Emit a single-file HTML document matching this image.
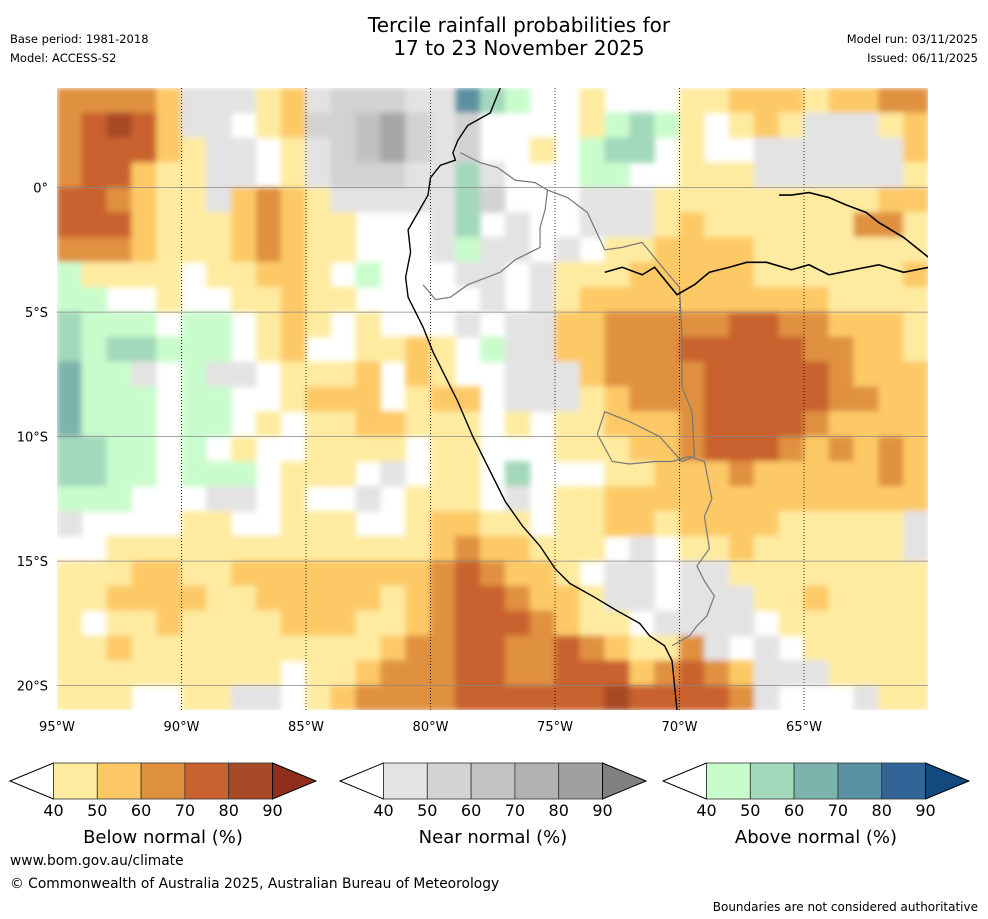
<!DOCTYPE html>
<html><head><meta charset="utf-8">
<style>
body{margin:0;background:#fff;width:988px;height:919px;overflow:hidden;font-family:"DejaVu Sans","Liberation Sans",sans-serif;}
svg{display:block}
</style></head>
<body>
<svg id="chart" width="988" height="919" viewBox="0 0 988 919">
<text x="519" y="32" font-size="20" text-anchor="middle">Tercile rainfall probabilities for</text>
<text x="519" y="55" font-size="20" text-anchor="middle">17 to 23 November 2025</text>
<text x="10" y="43" font-size="11.5">Base period: 1981-2018</text>
<text x="10" y="62" font-size="11.5">Model: ACCESS-S2</text>
<text x="978" y="43" font-size="11.5" text-anchor="end">Model run: 03/11/2025</text>
<text x="978" y="62" font-size="11.5" text-anchor="end">Issued: 06/11/2025</text>
<defs><clipPath id="mapclip"><rect x="57" y="88" width="871" height="622"/></clipPath>
<filter id="soft" x="-2%" y="-2%" width="104%" height="104%"><feGaussianBlur stdDeviation="3"/></filter></defs>
<g clip-path="url(#mapclip)"><g id="cells" filter="url(#soft)"></g></g>
<g id="grid"></g>
<g id="coast" clip-path="url(#mapclip)"></g>
<g id="axes"></g>
<g id="legend"></g>
<text x="10" y="865" font-size="13.8">www.bom.gov.au/climate</text>
<text x="10" y="888" font-size="13.8">© Commonwealth of Australia 2025, Australian Bureau of Meteorology</text>
<text x="978" y="911" font-size="12" text-anchor="end">Boundaries are not considered authoritative</text>
</svg>
<script>
// Grid rows: lat 4N down to 21S in 1° steps; columns lon 95W..61W
const latTop = 4, lonLeft = -95;
const categoryRows = [
"ccccb"+"gggab"+"ghhhg"+"gsqp."+".a..."+"aabbb"+"abbcc",
"cdedb"+"gg.ab"+"hhijh"+"gh..."+".apqp"+"a.aba"+"gggab",
"cdddb"+"agg.a"+"ghijh"+"gh..a"+".pqq."+"a..gg"+"ggggb",
"cddba"+"agg.a"+"ghhhg"+"gqg.."+".pp.."+"aaagg"+"gggga",
"ddcba"+"agbcb"+"agggg"+"gqh.."+".ggga"+"aaaaa"+"aaabb",
"dddba"+"aabcb"+"aa..."+"gq.g."+".ggga"+"baaaa"+"aacca",
"cccba"+"aabcb"+"aa..."+"gpgg."+"g.aab"+"bbbaa"+"aaaaa",
"paaaa"+".aabb"+"a.p.."+".gg.g"+"aaabb"+"bbbaa"+"aaaab",
"pp..a"+"..aab"+"aa..."+"..g.g"+"abbbb"+"bbbbb"+"baaaa",
"qppp."+"pp.ab"+"a.a.."+".g.gg"+"bbccc"+"ccddc"+"cbbba",
"qpqqp"+"pp.ab"+"..aab"+"a.pgg"+"bbccc"+"ddddd"+"ccbba",
"rppg."+"pgg.a"+"aab.b"+"a..gg"+"gbccc"+"cdddd"+"dcbbb",
"rppp."+"pp..a"+"bbb.a"+"bb.gg"+"gabcc"+"cdddd"+"dccbb",
"rppp."+"pp.a."+"aabba"+"aa.a."+"aabbb"+"cdddd"+"cbbbb",
"qqpp."+"p.a.."+"aaaa."+"aa..."+"aaabb"+"cdddc"+"bcbcb",
"qqpp."+"ppp.a"+"aa.g."+"aa.q."+"..aab"+"bbcbb"+"bbbcb",
"ppp.."+".gg.a"+"..g.a"+"aa.g."+"aabbb"+"bbbbb"+"bbbbb",
"g...."+"aa..a"+"aa..a"+"bbaa."+"aabba"+"bbbba"+"aaaag",
"..aaa"+"aaaaa"+"aaaaa"+"bcbba"+"aa.g."+"aabaa"+"aaaag",
"aaabb"+"aabbb"+"bbbbb"+"cdcbb"+"a.gg."+"ggaaa"+"aaaaa",
"aabbb"+"baabb"+"bbbab"+"cddcb"+"bagg."+"gggaa"+"baaaa",
"a.aab"+"aaaab"+"bbaab"+"cdddc"+"baa.g"+"ggg.a"+"aaaaa",
"aabaa"+"aaaaa"+"aaabc"+"cddcc"+"dcbaa"+"cg.g."+"aaaaa",
"aaaaa"+"aaaa."+"aabcc"+"cddcc"+"dddbc"+"dcbgg"+"gaaaa",
"aaa.."+"aagg."+"abccc"+"cdddd"+"ddedd"+"ddcg."+"..gaa"
];
const categoryCodes = ["a","b","c","d","e","g","h","i","j","p","q","r","s","t"];
const categoryColors = ["#FEEBA0","#FDC966","#E0913F","#C9622F","#A84A27","#E3E3E3","#D2D2D2","#C1C1C1","#A6A6A6","#C9FCCC","#A2D8BB","#7DB3AD","#5A91A2","#316597"];
const lonTicks = [-95,-90,-85,-80,-75,-70,-65];
const lonTickLabels = ["95°W","90°W","85°W","80°W","75°W","70°W","65°W"];
const latTicks = [0,-5,-10,-15,-20];
const latTickLabels = ["0°","5°S","10°S","15°S","20°S"];
const legendTicks = ["40","50","60","70","80","90"];
const legendTitles = ["Below normal (%)","Near normal (%)","Above normal (%)"];
const legendPalettes = [
 ["#FEEBA0","#FDC966","#E0913F","#C9622F","#A84A27","#8F2E1C"],
 ["#E3E3E3","#D3D3D3","#C2C2C2","#B1B1B1","#9F9F9F","#808080"],
 ["#C9FCCC","#A2D8BB","#7DB3AD","#5A91A2","#316597","#124A80"]
];
// coastline and borders (lon, lat)
const coastLon = [-77.2,-77.6,-78.5,-78.9,-79.1,-79.0,-79.6,-80.0,-80.1,-80.5,-80.9,-80.8,-81.0,-80.9,-80.3,-79.9,-79.4,-78.9,-78.3,-77.6,-77.0,-76.3,-75.6,-75.0,-74.4,-73.5,-72.5,-71.6,-71.2,-70.6,-70.3,-70.2,-70.1];
const coastLat = [4.0,3.0,2.5,1.9,1.4,1.1,0.9,0.4,-0.3,-1.0,-1.7,-2.6,-3.6,-4.4,-5.6,-6.6,-7.6,-8.6,-10.0,-11.4,-12.6,-13.6,-14.4,-15.3,-15.9,-16.4,-17.0,-17.5,-18.0,-18.4,-19.0,-20.0,-21.0];
const riverLon = [-73.0,-72.3,-71.5,-71.0,-70.1,-69.4,-68.8,-68.0,-67.3,-66.5,-65.5,-64.8,-64.0,-63.0,-62.0,-61.0,-60.0];
const riverLat = [-3.4,-3.2,-3.5,-3.2,-4.3,-3.9,-3.4,-3.2,-3.0,-3.0,-3.3,-3.1,-3.5,-3.3,-3.1,-3.4,-3.2];
const negroLon = [-66.0,-65.5,-64.8,-64.0,-63.3,-62.5,-62.0,-61.0,-60.0];
const negroLat = [-0.3,-0.3,-0.2,-0.4,-0.7,-1.0,-1.4,-2.0,-2.8];
const borderLon = [-78.8,-78.0,-77.3,-76.6,-75.8,-75.3,-75.4,-75.6,-75.6,-76.0,-76.6,-77.2,-78.5,-79.2,-79.8,-80.3];
const borderLat = [1.4,1.0,0.8,0.3,0.2,-0.1,-0.9,-1.6,-2.4,-2.6,-2.9,-3.4,-3.9,-4.4,-4.5,-3.9];
const border2Lon = [-75.3,-74.5,-73.7,-73.0,-72.3,-71.5,-70.6,-70.0,-69.9,-69.9,-69.5,-69.4,-69.9,-70.8,-72.0,-73.0,-73.3,-72.7,-72.0,-71.0,-70.5,-70.3,-69.6,-69.0,-68.7,-69.0,-68.8,-69.3,-69.0,-68.6,-68.9,-69.3,-69.6,-70.3];
const border2Lat = [-0.1,-0.4,-1.0,-2.5,-2.4,-2.2,-3.3,-4.0,-6.0,-8.0,-9.0,-10.8,-11.0,-10.0,-9.4,-9.0,-9.9,-11.0,-11.1,-11.0,-11.0,-11.0,-10.8,-11.0,-12.5,-13.2,-14.5,-15.2,-15.8,-16.4,-17.2,-17.6,-18.0,-18.4];

const NS='http://www.w3.org/2000/svg';
const x0=57,y0=88,deg=24.9;
function xOf(lon){return x0+(lon-lonLeft)*deg;}
function yOf(lat){return y0+(latTop-lat)*deg;}
function mk(tag,attrs,parent){const e=document.createElementNS(NS,tag);for(const k in attrs)e.setAttribute(k,attrs[k]);parent.appendChild(e);return e;}

const cells=document.getElementById('cells');
categoryRows.forEach((row,r)=>{
  for(let c=0;c<row.length;c++){
    const ch=row[c];const idx=categoryCodes.indexOf(ch);
    if(idx<0)continue;
    const el=mk('rect',{x:xOf(lonLeft+c)-0.3,y:yOf(latTop-r)-0.3,width:deg+0.6,height:deg+0.6,fill:categoryColors[idx]},cells);
    
    
  }
});

const grid=document.getElementById('grid');
lonTicks.forEach((lon,i)=>{
  if(i>0){const l=mk('line',{x1:xOf(lon),x2:xOf(lon),y1:88,y2:710,stroke:'#000','stroke-width':0.8,'stroke-dasharray':'1,2'},grid);
  
  }
});
latTicks.forEach(lat=>{
  const l=mk('line',{x1:57,x2:928,y1:yOf(lat),y2:yOf(lat),stroke:'#888','stroke-width':0.7},grid);
  
  
});

const coast=document.getElementById('coast');
function poly(lons,lats,stroke,w,name){
  const pts=lons.map((lo,i)=>xOf(lo)+','+yOf(lats[i])).join(' ');
  const p=mk('polyline',{points:pts,fill:'none',stroke:stroke,'stroke-width':w},coast);
  
  
}
poly(borderLon,borderLat,'#777',1.2,'country-border');
poly(border2Lon,border2Lat,'#777',1.2,'country-border-east');
poly(coastLon,coastLat,'#000',1.4,'coastline');
poly(riverLon,riverLat,'#000',1.6,'amazon-river');
poly(negroLon,negroLat,'#000',1.6,'rio-negro');

const axes=document.getElementById('axes');
lonTicks.forEach((lon,i)=>{
  const t=mk('text',{x:xOf(lon),y:731,'font-size':13,'text-anchor':'middle'},axes);
  t.textContent=lonTickLabels[i];
  
  
});
latTicks.forEach((lat,i)=>{
  const t=mk('text',{x:48,y:yOf(lat)+5,'font-size':13,'text-anchor':'end'},axes);
  t.textContent=latTickLabels[i];
  
  
});

const legend=document.getElementById('legend');
const barStarts=[10,340,663];
barStarts.forEach((bx,b)=>{
  const g=mk('g',{},legend);
  
  
  const segW=43.8,tri=43.5,yt=763,yb=799,ym=781;
  const s0=bx+tri;
  mk('polygon',{points:`${bx},${ym} ${s0},${yt} ${s0},${yb}`,fill:'#fff',stroke:'#000','stroke-width':1},g);
  for(let i=0;i<5;i++){
    const r=mk('rect',{x:s0+i*segW,y:yt,width:segW,height:yb-yt,fill:legendPalettes[b][i],stroke:'#333','stroke-width':0.8},g);
    
    
  }
  const e=s0+5*segW;
  mk('polygon',{points:`${e},${yt} ${e+tri},${ym} ${e},${yb}`,fill:legendPalettes[b][5],stroke:'#000','stroke-width':1},g);
  legendTicks.forEach((lab,i)=>{
    const t=mk('text',{x:s0+i*segW,y:816,'font-size':16,'text-anchor':'middle'},g);
    t.textContent=lab;
    
    
  });
  const tt=mk('text',{x:s0+2.5*segW,y:843,'font-size':18,'text-anchor':'middle'},g);
  tt.textContent=legendTitles[b];
  
  
});
</script>
</body></html>
